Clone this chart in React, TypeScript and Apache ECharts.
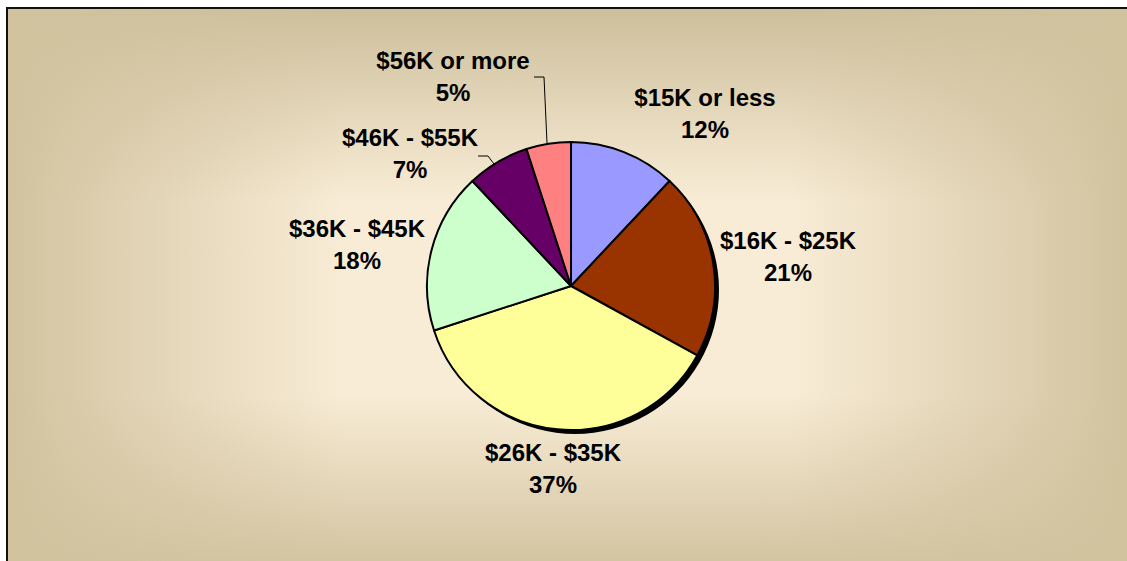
import React, { useEffect, useRef } from "react";
import * as echarts from "echarts";

const categories = ["$15K or less", "$16K - $25K", "$26K - $35K", "$36K - $45K", "$46K - $55K", "$56K or more"];
const values = [12, 21, 37, 18, 7, 5];
const colors = ["#9999ff", "#993300", "#ffff99", "#ccffcc", "#660066", "#ff8080"];
const showLine = [false, false, false, false, true, true];

// label anchor positions (text block centers) and leader lines
const labelPos: [number, number][] = [
  [705, 113],
  [788, 256],
  [553, 468],
  [357, 244],
  [410, 153],
  [453, 76],
];
const leaderLines: ([number, number][] | null)[] = [
  null,
  null,
  null,
  null,
  [[478, 156], [488, 156], [494, 164]],
  [[534, 77], [544, 77], [547, 143]],
];

const W = 1127;
const H = 561;
const CX = 571;
const CY = 286;
const R = 144;

export default function App() {
  const ref = useRef<HTMLDivElement>(null);
  useEffect(() => {
    if (!ref.current) return;
    const chart = echarts.init(ref.current, undefined, { renderer: "svg", width: W, height: H });
    const mid = "#f8ecd6";
    chart.setOption({
      animation: false,
      graphic: [
        {
          type: "rect",
          z: -10,
          silent: true,
          shape: { x: 7, y: 8, width: W - 7, height: H - 8 },
          style: {
            fill: new echarts.graphic.LinearGradient(0, 0, 0, 1, [
              { offset: 0, color: "#cdbf9b" },
              { offset: 0.35, color: mid },
              { offset: 0.7, color: mid },
              { offset: 1, color: "#d3c5a1" },
            ]),
          },
        },
        {
          type: "rect",
          z: -9,
          silent: true,
          shape: { x: 7, y: 8, width: W - 7, height: H - 8 },
          style: {
            fill: new echarts.graphic.LinearGradient(0, 0, 1, 0, [
              { offset: 0, color: "rgba(210,195,159,1)" },
              { offset: 0.3, color: "rgba(210,195,159,0)" },
              { offset: 0.7, color: "rgba(210,195,159,0)" },
              { offset: 1, color: "rgba(210,195,159,1)" },
            ]),
          },
        },
        {
          type: "polyline",
          z: -8,
          silent: true,
          shape: { points: [[7, H], [7, 8], [W, 8]] },
          style: { stroke: "#111", lineWidth: 2, fill: "none" },
        },
      ],
      series: [
        {
          type: "pie",
          silent: true,
          z: 1,
          center: [CX + 4, CY + 4],
          radius: R,
          label: { show: false },
          labelLine: { show: false },
          itemStyle: { color: "#000", borderWidth: 0 },
          data: [{ value: 1 }],
        },
        {
          type: "pie",
          z: 2,
          center: [CX, CY],
          radius: R,
          startAngle: 90,
          clockwise: true,
          avoidLabelOverlap: false,
          itemStyle: { borderColor: "#000", borderWidth: 2 },
          label: {
            show: true,
            position: "outside",
            fontFamily: "Liberation Sans, Arial, sans-serif",
            fontWeight: "bold",
            fontSize: 24,
            lineHeight: 32,
            color: "#000",
            align: "center",
            formatter: (p: any) => `${p.name}\n${p.value}%`,
          },
          labelLine: { show: true, lineStyle: { color: "#000", width: 1 } },
          labelLayout: (params: any) => {
            const i = params.dataIndex;
            const pos = labelPos[i];
            const out: any = { x: pos[0], y: pos[1], align: "center", verticalAlign: "middle" };
            if (leaderLines[i]) out.labelLinePoints = leaderLines[i];
            return out;
          },
          data: categories.map((name, i) => ({
            name,
            value: values[i],
            itemStyle: { color: colors[i] },
            labelLine: { show: showLine[i] },
          })),
        },
      ],
    });
    return () => chart.dispose();
  }, []);
  return <div ref={ref} style={{ position: "absolute", left: 0, top: 0, width: W, height: H }} />;
}
